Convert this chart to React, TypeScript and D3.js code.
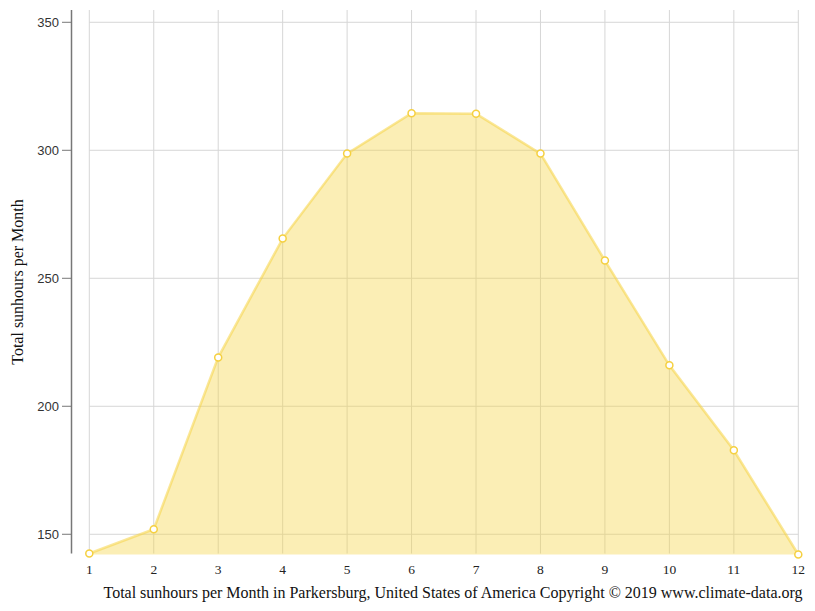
import React from "react";
import * as d3 from "d3";

const months = [1, 2, 3, 4, 5, 6, 7, 8, 9, 10, 11, 12];
const sunhours = [142.5, 152, 219.1, 265.5, 298.7, 314.5, 314.3, 298.7, 256.9, 216, 182.8, 142.1];
const yTicks = [150, 200, 250, 300, 350];
const title = "Total sunhours per Month in Parkersburg, United States of America Copyright © 2019 www.climate-data.org";
const yLabel = "Total sunhours per Month";

export default function App() {
  const W = 815, H = 611;
  const x = d3.scaleLinear().domain([1, 12]).range([89.3, 798.3]);
  const yMin = d3.min(sunhours) as number;
  const y = d3.scaleLinear().domain([yMin, 354.8]).range([554.5, 10]);
  const area = d3.area<number>().x((_, i) => x(months[i])).y0(y(yMin)).y1((d) => y(d));
  const line = d3.line<number>().x((_, i) => x(months[i])).y((d) => y(d));
  const top = 10, bottom = 553.5;
  return (
    <svg width={W} height={H} style={{ position: "absolute", left: 0, top: 0 }}>
      <rect width={W} height={H} fill="#fff" />
      {months.map((m) => (
        <line key={"gx" + m} x1={x(m)} x2={x(m)} y1={top} y2={bottom} stroke="#d6d6d6" strokeWidth={1} />
      ))}
      {yTicks.map((t) => (
        <line key={"gy" + t} x1={x(1)} x2={x(12)} y1={y(t)} y2={y(t)} stroke="#d6d6d6" strokeWidth={1} />
      ))}
      <path d={area(sunhours) || ""} fill="rgba(245,212,70,0.4)" />
      <path d={line(sunhours) || ""} fill="none" stroke="rgba(245,212,70,0.55)" strokeWidth={2.5} />
      {sunhours.map((v, i) => (
        <circle key={"p" + i} cx={x(months[i])} cy={y(v)} r={3.5} fill="#fff" stroke="#f5d040" strokeWidth={1.5} />
      ))}
      <line x1={71.5} x2={71.5} y1={top} y2={bottom} stroke="#777" strokeWidth={1.5} />
      {yTicks.map((t) => (
        <g key={"ty" + t}>
          <line x1={62} x2={71.5} y1={y(t)} y2={y(t)} stroke="#777" strokeWidth={1} />
          <text x={59} y={y(t)} dy="0.35em" textAnchor="end" fontFamily="'Liberation Sans', Arial, sans-serif" fontSize={13} fill="#333">
            {t}
          </text>
        </g>
      ))}
      {months.map((m) => (
        <text key={"tx" + m} x={x(m)} y={574} textAnchor="middle" fontFamily="'Liberation Serif', serif" fontSize={13.5} fill="#222">
          {m}
        </text>
      ))}
      <text x={453} y={598} textAnchor="middle" fontFamily="'Liberation Serif', serif" fontSize={16} fill="#111">
        {title}
      </text>
      <text transform={`translate(23,282) rotate(-90)`} textAnchor="middle" fontFamily="'Liberation Serif', serif" fontSize={16} fill="#111">
        {yLabel}
      </text>
    </svg>
  );
}
